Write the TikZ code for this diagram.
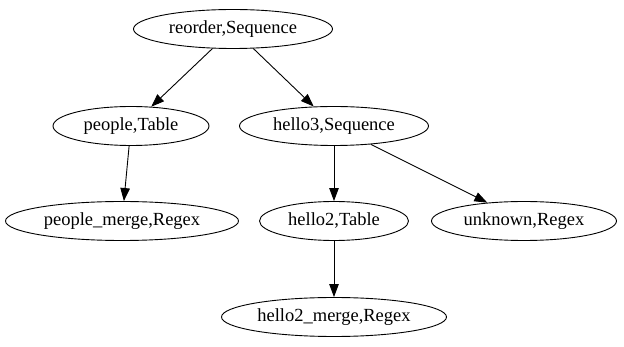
\documentclass[tikz,border=0pt]{standalone}
\usepackage{fontspec}
\setmainfont{Liberation Serif}
\usetikzlibrary{shapes.geometric,arrows.meta}
\begin{document}
\begin{tikzpicture}[x=1pt,y=-1pt,
  gnode/.style={draw,ellipse,line width=0.9pt,minimum height=39pt,inner sep=0pt,font=\fontsize{18.5}{20}\selectfont},
  gedge/.style={draw,line width=0.9pt,-{Triangle[length=13pt,width=9.5pt]}}]
\useasboundingbox (0,0) rectangle (624,347);
\node[gnode,minimum width=199pt] (reorder) at (233,29) {reorder,Sequence};
\node[gnode,minimum width=156pt] (people) at (131,126) {people,Table};
\node[gnode,minimum width=189pt] (hello3) at (334,126) {hello3,Sequence};
\node[gnode,minimum width=233pt] (pmerge) at (122,221) {people\_merge,Regex};
\node[gnode,minimum width=149pt] (hello2) at (334,221) {hello2,Table};
\node[gnode,minimum width=185pt] (unknown) at (524,221) {unknown,Regex};
\node[gnode,minimum width=225pt] (hmerge) at (334,317) {hello2\_merge,Regex};
\draw[gedge] (reorder) -- (people);
\draw[gedge] (reorder) -- (hello3);
\draw[gedge] (people) -- (pmerge);
\draw[gedge] (hello3) -- (hello2);
\draw[gedge] (hello3) -- (unknown);
\draw[gedge] (hello2) -- (hmerge);
\end{tikzpicture}
\end{document}
